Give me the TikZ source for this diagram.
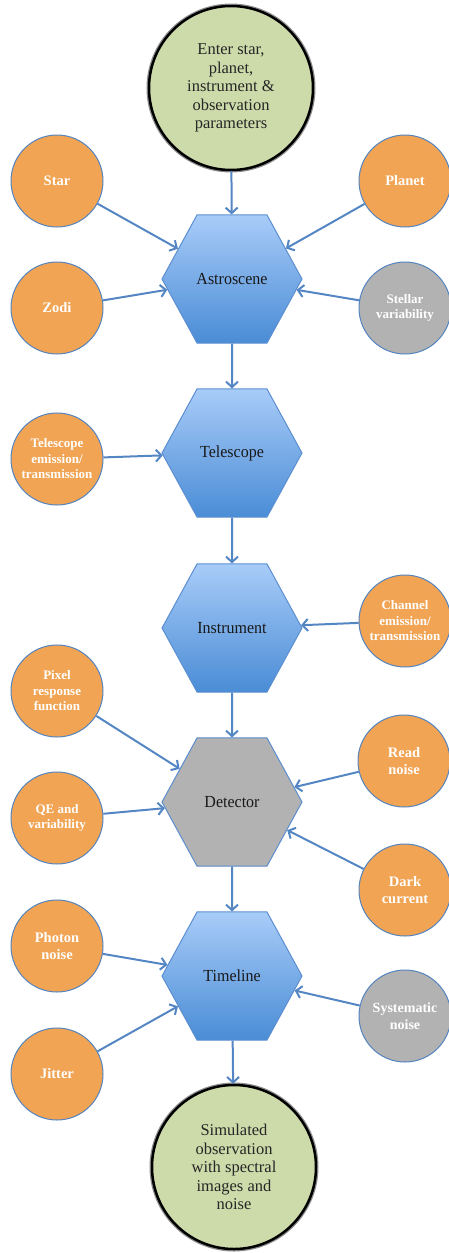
\documentclass[tikz,border=0pt]{standalone}
\usepackage{fontspec}
\setmainfont{Liberation Serif}
\usetikzlibrary{arrows.meta,shapes.geometric}
\definecolor{orangeF}{RGB}{241,164,84}
\definecolor{grayF}{RGB}{178,178,178}
\definecolor{greenF}{RGB}{205,218,170}
\definecolor{cline}{RGB}{84,132,192}
\definecolor{hexline}{RGB}{92,142,208}
\definecolor{hextop}{RGB}{168,204,248}
\definecolor{hexbot}{RGB}{74,140,214}
\definecolor{arrowc}{RGB}{84,134,196}
\begin{document}
\begin{tikzpicture}[x=1pt,y=-1pt,
  hexbox/.style={regular polygon, regular polygon sides=6, minimum size=140pt,
    inner sep=0pt, yscale=1.056, draw=hexline, line width=1pt,
    top color=hextop, bottom color=hexbot, text=black!90,
    font=\fontsize{16}{18}\selectfont},
  grayhex/.style={hexbox, top color=grayF, bottom color=grayF, fill=grayF},
  incirc/.style={circle, minimum size=92pt, inner sep=0pt, draw=cline,
    line width=1pt, fill=orangeF, text=white, align=center,
    font=\fontsize{14.5}{17}\selectfont\bfseries},
  smalltxt/.style={font=\fontsize{13}{15.5}\selectfont\bfseries},
  graycirc/.style={incirc, fill=grayF},
  endcirc/.style={circle, minimum size=164pt, inner sep=0pt, fill=greenF,
    draw=black, line width=2.5pt, preaction={draw=black!45, line width=5pt},
    align=center, text=black!85, font=\fontsize{16.5}{18.5}\selectfont},
  flow/.style={draw=arrowc, line width=2pt,
    -{Straight Barb[length=5.5pt,width=12pt]}}
]
\useasboundingbox (0,0) rectangle (449,1253);

% start / end
\node[endcirc] (enter) at (231,88) {Enter star,\\planet,\\instrument \&\\observation\\parameters};
\node[endcirc] (sim) at (234,1167) {Simulated\\observation\\with spectral\\images and\\noise};

% hexagons
\node[hexbox] (astro) at (232,279) {Astroscene};
\node[hexbox] (tele) at (232,453) {Telescope};
\node[hexbox] (instr) at (232,628) {Instrument};
\node[grayhex] (det) at (232,802) {Detector};
\node[hexbox] (time) at (232,976) {Timeline};

% input circles
\node[incirc] (star) at (57,181) {Star};
\node[incirc] (planet) at (405,181) {Planet};
\node[incirc] (zodi) at (57,308) {Zodi};
\node[graycirc, smalltxt] (stellar) at (405,308) {Stellar\\variability};
\node[incirc, smalltxt] (telem) at (57,459) {Telescope\\emission/\\transmission};
\node[incirc, smalltxt] (chan) at (405,621) {Channel\\emission/\\transmission};
\node[incirc, smalltxt] (pixel) at (57,691) {Pixel\\response\\function};
\node[incirc, smalltxt] (qe) at (57,818) {QE and\\variability};
\node[incirc] (read) at (404,761) {Read\\noise};
\node[incirc] (dark) at (405,890) {Dark\\current};
\node[incirc] (photon) at (57,946) {Photon\\noise};
\node[incirc] (jitter) at (57,1074) {Jitter};
\node[graycirc, font=\fontsize{14}{16.5}\selectfont\bfseries] (syst) at (405,1016) {Systematic\\noise};

% main flow
\draw[flow] (enter) -- (astro);
\draw[flow] (astro) -- (tele);
\draw[flow] (tele) -- (instr);
\draw[flow] (instr) -- (det);
\draw[flow] (det) -- (time);
\draw[flow] (time) -- (sim);

% inputs
\draw[flow] (star) -- (astro);
\draw[flow] (planet) -- (astro);
\draw[flow] (zodi) -- (astro);
\draw[flow] (stellar) -- (astro);
\draw[flow] (telem) -- (tele);
\draw[flow] (chan) -- (instr);
\draw[flow] (pixel) -- (det);
\draw[flow] (qe) -- (det);
\draw[flow] (read) -- (det);
\draw[flow] (dark) -- (det);
\draw[flow] (photon) -- (time);
\draw[flow] (jitter) -- (time);
\draw[flow] (syst) -- (time);
\end{tikzpicture}
\end{document}
